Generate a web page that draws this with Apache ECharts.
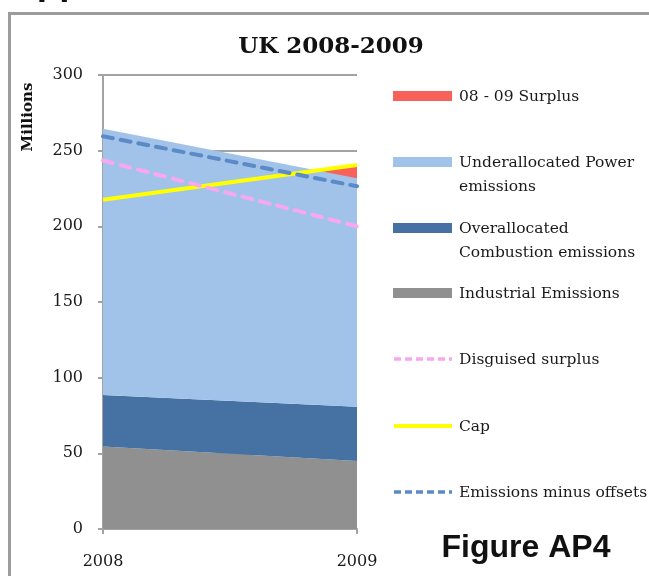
<!DOCTYPE html>
<html>
<head>
<meta charset="utf-8">
<script src="https://cdn.jsdelivr.net/npm/echarts@6/dist/echarts.min.js"></script>
<style>
  html, body { margin: 0; padding: 0; background: #fff; }
  #chart { width: 649px; height: 576px; }
</style>
</head>
<body>
<div id="chart"></div>
<script>
// Years on the category axis
const years = ['2008', '2009'];
// Stacked emission components (millions of allowances)
const industrialEmissions = [54.5, 45];
const combustionEmissions = [34, 35.8];
const powerEmissions = [176, 151];
// Surplus band drawn up to the cap, visible only where the cap exceeds emissions
const surplusTop = [217.5, 240.5];
// Overlaid lines
const capValues = [217.5, 240.5];
const disguisedSurplus = [243.5, 200];
const emissionsMinusOffsets = [259.5, 226.5];
// Value axis ticks
const yTicks = [0, 50, 100, 150, 200, 250, 300];

const SERIF = '"DejaVu Serif", "Liberation Serif", serif';
const SANS = '"Liberation Sans", Arial, sans-serif';
const GRID_GREY = '#a3a3a3';

const C = {
  surplus: '#f8605a',
  power: '#a1c3e9',
  combustion: '#4572a3',
  industrial: '#909090',
  disguised: '#f7a8ee',
  cap: '#ffff00',
  offsets: '#5b8ac6'
};

const chart = echarts.init(document.getElementById('chart'), null, { renderer: 'canvas' });

function areaSeries(name, data, color, stacked, origin) {
  return {
    name, type: 'line', data,
    stack: stacked ? 'emissions' : undefined,
    symbol: 'none', silent: true,
    lineStyle: { width: 0 },
    areaStyle: { color, opacity: 1, origin: origin === undefined ? 'auto' : origin },
    itemStyle: { color }
  };
}
function lineSeries(name, data, color, width, dashed) {
  return {
    name, type: 'line', data,
    symbol: 'none', silent: true,
    lineStyle: { color, width, type: dashed ? [10, 8] : 'solid', cap: dashed ? 'round' : 'butt' },
    itemStyle: { color }
  };
}

// Legend entries laid out on the right-hand side
const legendRows = [
  { kind: 'box', color: C.surplus, y: 96, lines: ['08 - 09 Surplus'] },
  { kind: 'box', color: C.power, y: 162, lines: ['Underallocated Power', 'emissions'] },
  { kind: 'box', color: C.combustion, y: 228, lines: ['Overallocated', 'Combustion emissions'] },
  { kind: 'box', color: C.industrial, y: 293, lines: ['Industrial Emissions'] },
  { kind: 'dash', color: C.disguised, y: 359, lines: ['Disguised surplus'] },
  { kind: 'solid', color: C.cap, y: 426, lines: ['Cap'] },
  { kind: 'dash', color: C.offsets, y: 492, lines: ['Emissions minus offsets'] }
];
const legendGraphics = [];
legendRows.forEach(r => {
  if (r.kind === 'box') {
    legendGraphics.push({ type: 'rect', shape: { x: 393, y: r.y - 5, width: 59, height: 10 }, style: { fill: r.color } });
  } else {
    legendGraphics.push({
      type: 'line', shape: { x1: 394, y1: r.y, x2: 452, y2: r.y },
      style: { stroke: r.color, lineWidth: r.kind === 'dash' ? 3.5 : 4, lineDash: r.kind === 'dash' ? [7, 4] : null }
    });
  }
  r.lines.forEach((t, i) => {
    legendGraphics.push({
      type: 'text', x: 459, y: r.y + 1 + i * 24,
      style: { text: t, font: '15.5px ' + SERIF, fill: '#1a1a1a', textVerticalAlign: 'middle' }
    });
  });
});

chart.setOption({
  animation: false,
  backgroundColor: '#fff',
  grid: { left: 103, right: 292, top: 75, bottom: 47 },
  xAxis: {
    type: 'category', data: years, boundaryGap: false,
    axisLine: { lineStyle: { color: GRID_GREY, width: 2 } },
    axisTick: { show: true, length: 5, lineStyle: { color: GRID_GREY, width: 2 } },
    axisLabel: { color: '#1a1a1a', fontFamily: SERIF, fontSize: 16, margin: 25 },
    splitLine: { show: false }
  },
  yAxis: {
    type: 'value', min: yTicks[0], max: yTicks[yTicks.length - 1], interval: yTicks[1] - yTicks[0],
    axisLine: { show: true, lineStyle: { color: GRID_GREY, width: 2 } },
    axisTick: { show: true, length: 5, lineStyle: { color: GRID_GREY, width: 2 } },
    axisLabel: { color: '#1a1a1a', fontFamily: SERIF, fontSize: 16, margin: 20 },
    splitLine: { show: true, lineStyle: { color: GRID_GREY, width: 2 } }
  },
  series: [
    areaSeries('08 - 09 Surplus', surplusTop, C.surplus, false, 150),
    areaSeries('Industrial Emissions', industrialEmissions, C.industrial, true),
    areaSeries('Overallocated Combustion emissions', combustionEmissions, C.combustion, true),
    areaSeries('Underallocated Power emissions', powerEmissions, C.power, true),
    lineSeries('Cap', capValues, C.cap, 4, false),
    lineSeries('Disguised surplus', disguisedSurplus, C.disguised, 4, true),
    lineSeries('Emissions minus offsets', emissionsMinusOffsets, C.offsets, 4, true)
  ],
  graphic: [
    // page heading cut off at the top edge
    { type: 'text', x: 10, y: 2, style: { text: 'Appendix', font: 'bold 37px ' + SANS, fill: '#111', textVerticalAlign: 'bottom' } },
    // figure frame
    { type: 'rect', shape: { x: 9.5, y: 13.5, width: 700, height: 700 }, style: { fill: null, stroke: '#9c9c9c', lineWidth: 3 } },
    { type: 'text', x: 331, y: 47, style: { text: 'UK 2008-2009', font: 'bold 23px ' + SERIF, fill: '#111', textAlign: 'center', textVerticalAlign: 'middle' } },
    { type: 'text', x: 28, y: 117, rotation: Math.PI / 2, style: { text: 'Millions', font: 'bold 15px ' + SERIF, fill: '#111', textAlign: 'center', textVerticalAlign: 'middle' } },
    { type: 'text', x: 526, y: 548, style: { text: 'Figure AP4', font: 'bold 32px ' + SANS, fill: '#111', textAlign: 'center', textVerticalAlign: 'middle' } }
  ].concat(legendGraphics)
});
</script>
</body>
</html>
